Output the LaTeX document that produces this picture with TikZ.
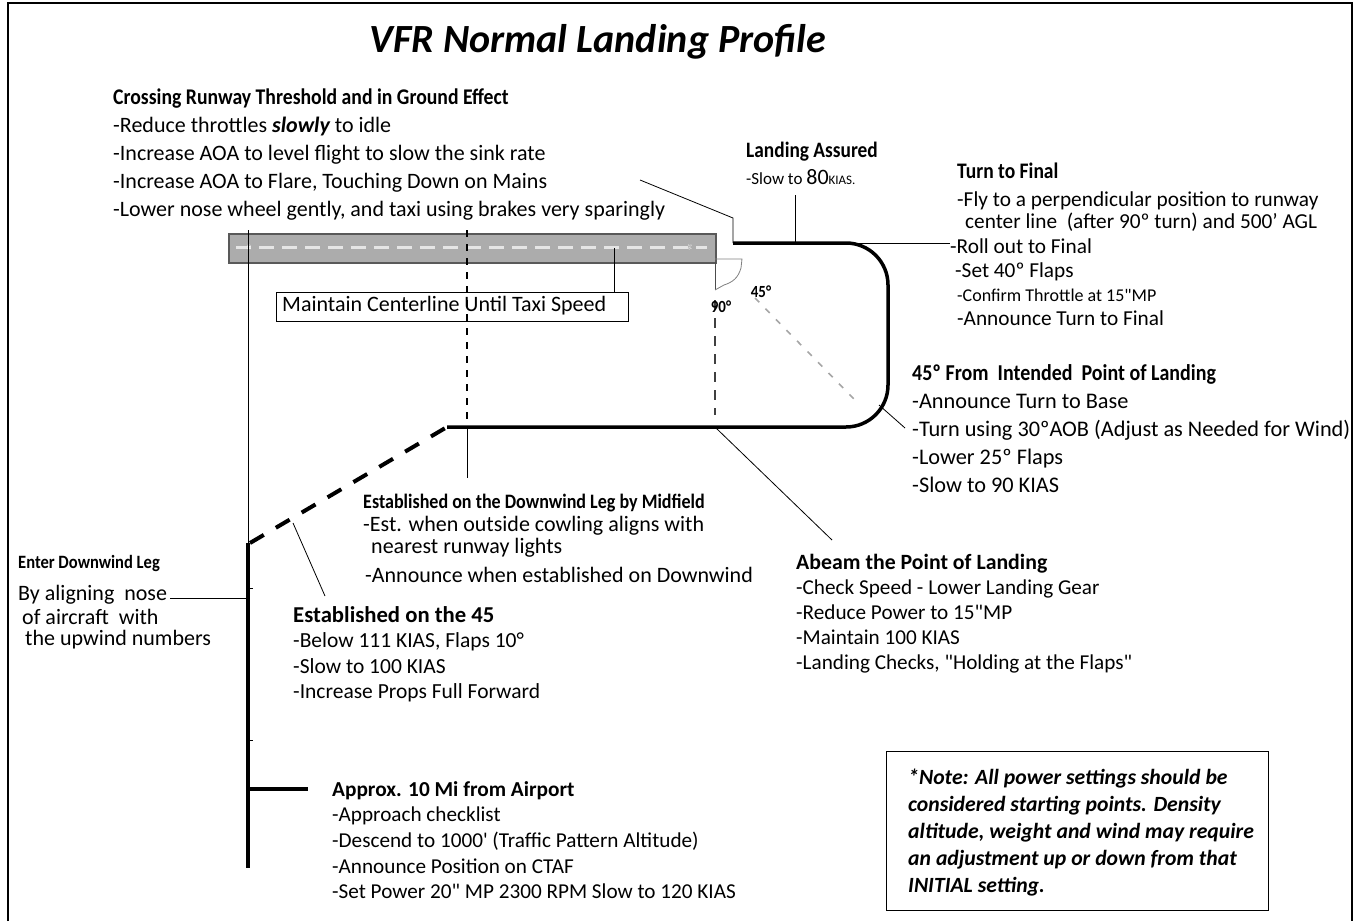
\documentclass[tikz,border=0pt]{standalone}
\usepackage{fontspec}
\setmainfont{Carlito}[Ligatures=TeXOff]
\newfontfamily\hdfont{Carlito}[FakeStretch=0.88]
\usetikzlibrary{positioning}

\begin{document}
\begin{tikzpicture}[x=1pt,y=-1pt,
    txt/.style={anchor=north west, inner sep=0pt, align=left, font=\fontsize{22}{28}\selectfont},
    leader/.style={line width=0.8pt},
    legline/.style={line width=3.5pt}]
\useasboundingbox (0,0) rectangle (1356,921);
% frame
\draw[line width=1.2pt] (8,921) -- (8,3) -- (1352,3) -- (1352,921);
\node[font=\fontsize{40}{40}\selectfont\bfseries\itshape] (title) at (598,42) {VFR Normal Landing Profile};

% runway
\node[draw=gray!70!black, fill=gray!65, line width=1.5pt, minimum width=487pt, minimum height=29pt,
      inner sep=0pt, anchor=north west] (rwy) at (228,233) {};
\draw[gray!20, line width=3pt, dash pattern=on 15pt off 8pt] (236,247.5) -- (707,247.5);
\node[rotate=90, font=\tiny, text=white, inner sep=0pt] (rwyA) at (249,247.5) {18};
\node[rotate=-90, font=\tiny, text=white, inner sep=0pt] (rwyB) at (690,247.5) {36};

% pattern points
\coordinate (entry) at (248,543);
\coordinate (dwStart) at (447,427);
\coordinate (baseCnr) at (888,427);
\coordinate (finalCnr) at (888,243);
\coordinate (finalEnd) at (733,243);
\coordinate (tenMi) at (248,868);

% approach leg
\draw[leader] (248,230) -- (entry);
\draw[legline] (entry) -- (tenMi);
\draw[leader] (248,588) -- (253,588);
\draw[leader] (248,740) -- (253,740);
\draw[legline] (248,789) -- (308,789);
% 45 entry
\draw[line width=4pt, dash pattern=on 16pt off 14pt] (250,543) -- (dwStart);
% downwind, base, final
\draw[legline, rounded corners=42pt] (dwStart) -- (baseCnr) -- (finalCnr) -- (finalEnd);

% midfield and runway end marks
\draw[line width=1.2pt, dash pattern=on 7pt off 7pt] (467,230) -- (467,427);
\draw[leader] (467,427) -- (467,478);
\draw[gray!60!black, line width=1pt] (715,262) -- (715,290);
\draw[gray!50!black, line width=1.6pt, dash pattern=on 10pt off 8pt] (715,300) -- (715,415);
\draw[gray, line width=0.8pt] (715,259) -- (742,259) -- (741,268) .. controls (738,278) and (733,282) .. (724,285) -- (715,290);
\draw[gray!70, line width=1.6pt, dash pattern=on 6pt off 9pt] (755,298) -- (855,400);
\node[font=\fontsize{17}{17}\selectfont\hdfont\bfseries, inner sep=0pt] (ninety) at (721,307) {90°};
\node[font=\fontsize{17}{17}\selectfont\hdfont\bfseries, inner sep=0pt] (fortyfiveDeg) at (761,292) {45°};

% text blocks
\node[txt] (cross) at (113,89) {{\fontsize{22.4}{28}\selectfont\hdfont\bfseries Crossing Runway Threshold and in Ground Effect}\\
  -Reduce throttles {\bfseries\itshape slowly} to idle\\
  -Increase AOA to level flight to slow the sink rate\\
  -Increase AOA to Flare, Touching Down on Mains\\
  -Lower nose wheel gently, and taxi using brakes very sparingly};
\node[txt, font=\fontsize{17}{27}\selectfont] (assured) at (746,142) {{\fontsize{22}{27}\selectfont\hdfont\bfseries Landing Assured}\\
  -Slow to {\fontsize{22}{22}\selectfont 80}{\fontsize{13}{13}\selectfont KIAS.}};
\node[txt, font=\fontsize{21.3}{24}\selectfont] (turnFinal) at (950,163) {\hspace{7pt}{\fontsize{22.2}{24}\selectfont\hdfont\bfseries Turn to Final}\\[4pt]
  \hspace{7pt}-Fly to a perpendicular position to runway\\[-2pt]
  \hspace{15pt}center line\ \ (after 90º turn) and 500’ AGL\\[1pt]
  -Roll out to Final\\
  \hspace{5pt}-Set 40º Flaps\\
  \hspace{7pt}{\fontsize{18}{18}\selectfont -Confirm Throttle at 15"MP}\\
  \hspace{7pt}-Announce Turn to Final};
\node[txt, font=\fontsize{22.3}{28}\selectfont] (base) at (912,364) {{\fontsize{22.7}{28}\selectfont\hdfont\bfseries 45º From\ \ Intended\ \ Point of Landing}\\
  -Announce Turn to Base\\
  -Turn using 30ºAOB (Adjust as Needed for Wind)\\
  -Lower 25º Flaps\\
  -Slow to 90 KIAS};
\node[txt, font=\fontsize{22}{23}\selectfont] (midfield) at (363,494) {{\fontsize{20.5}{23}\selectfont\hdfont\bfseries Established on the Downwind Leg by Midfield}\\
  -Est. when outside cowling aligns with\\[-1pt]
  \hspace{8pt}nearest runway lights\\[6pt]
  \hspace{2pt}-Announce when established on Downwind};
\node[txt, font=\fontsize{21.2}{25}\selectfont] (abeam) at (796,554) {{\fontsize{21.8}{25}\selectfont\bfseries Abeam the Point of Landing}\\
  -Check Speed - Lower Landing Gear\\
  -Reduce Power to 15"MP\\
  -Maintain 100 KIAS\\
  -Landing Checks, "Holding at the Flaps"};
\node[txt, font=\fontsize{22}{24}\selectfont] (enterDw) at (18,555) {{\fontsize{18.8}{24}\selectfont\hdfont\bfseries Enter Downwind Leg}\\[8pt]
  By aligning\ \ nose\\
  \hspace{4pt}of aircraft\ \ with\\[-3pt]
  \hspace{7pt}the upwind numbers};
\node[txt, font=\fontsize{21.5}{25.5}\selectfont] (est45) at (293,606) {{\fontsize{22.7}{25.5}\selectfont\bfseries Established on the 45}\\
  -Below 111 KIAS, Flaps 10°\\
  -Slow to 100 KIAS\\
  -Increase Props Full Forward};
\node[txt, font=\fontsize{21.2}{25.7}\selectfont] (approx) at (332,781) {{\fontsize{21.3}{25.7}\selectfont\bfseries Approx. 10 Mi from Airport}\\
  -Approach checklist\\
  -Descend to 1000' (Traffic Pattern Altitude)\\
  -Announce Position on CTAF\\
  -Set Power 20" MP 2300 RPM Slow to 120 KIAS};

% centerline box
\node[draw, line width=1pt, minimum width=352pt, minimum height=29pt, inner sep=0pt, anchor=north west] (taxiBox) at (276,292) {};
\node[anchor=west, inner sep=0pt, font=\fontsize{22}{22}\selectfont] (taxi) at (282,306) {Maintain Centerline Until Taxi Speed};

% note
\node[draw, line width=1pt, minimum width=382pt, minimum height=159pt, inner sep=0pt, anchor=north west] (noteBox) at (886,751) {};
\node[txt, font=\fontsize{21.7}{27}\selectfont\bfseries\itshape] (note) at (908,769) {*Note: All power settings should be\\
  considered starting points. Density\\
  altitude, weight and wind may require\\
  an adjustment up or down from that\\
  INITIAL setting.};

% leaders
\draw[leader] (640,180) -- (733,218) -- (finalEnd);
\draw[leader] (795,195) -- (795,243);
\draw[leader] (850,243) -- (turnFinal.west |- 0,243);
\draw[leader] (879,405) -- (905,428);
\draw[leader] (716,428) -- (832,540);
\draw[leader] (293,523) -- (325,596);
\draw[leader] (170,598) -- (248,598);
\draw[leader] (614,292) -- (614,248);
\end{tikzpicture}
\end{document}
